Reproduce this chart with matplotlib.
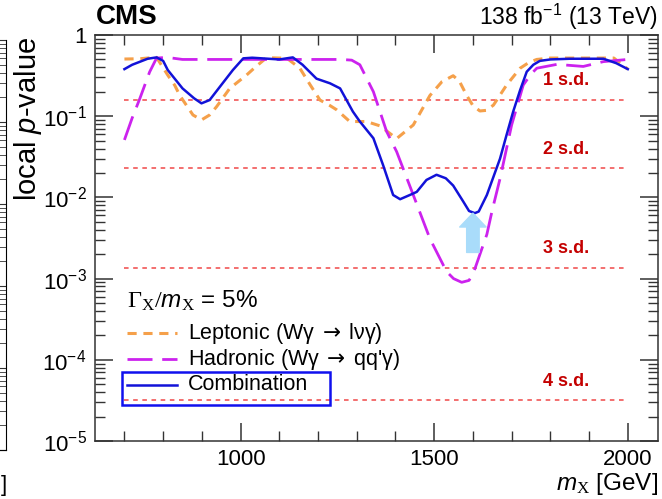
import numpy as np
import matplotlib
matplotlib.use("Agg")
import matplotlib.pyplot as plt
from matplotlib.lines import Line2D
from matplotlib.patches import Rectangle

plt.rcParams['font.family'] = ['Liberation Sans', 'DejaVu Sans']
plt.rcParams['mathtext.fontset'] = 'custom'
plt.rcParams['mathtext.rm'] = 'Liberation Serif'
plt.rcParams['mathtext.it'] = 'Liberation Sans:italic'
plt.rcParams['mathtext.bf'] = 'Liberation Sans:bold'
plt.rcParams['mathtext.sf'] = 'DejaVu Sans'

# ---- data ----
comb_m = [700, 720, 760, 783, 800, 812, 850, 880, 899, 920, 950, 980, 1007, 1030, 1100, 1135,
          1160, 1196, 1231, 1257, 1290, 1308, 1343, 1368, 1394, 1412, 1437, 1455, 1480, 1506,
          1530, 1549, 1575, 1590, 1605, 1615, 1636, 1670, 1687, 1704, 1722, 1739, 1756, 1773,
          1800, 1850, 1900, 1937, 1970, 2000]
comb_p = [0.38, 0.43, 0.51, 0.53, 0.48, 0.37, 0.22, 0.166, 0.144, 0.158, 0.242, 0.37, 0.516,
          0.525, 0.5, 0.53, 0.43, 0.29, 0.254, 0.22, 0.114, 0.086, 0.0535, 0.025, 0.0107,
          0.0095, 0.0107, 0.0117, 0.0164, 0.019, 0.0172, 0.014, 0.0089, 0.0068, 0.0064,
          0.0067, 0.0107, 0.030, 0.059, 0.114, 0.21, 0.353, 0.43, 0.48, 0.5, 0.51, 0.51,
          0.51, 0.45, 0.38]

lep_m = [700, 740, 760, 783, 812, 830, 843, 877, 899, 920, 938, 972, 1015, 1040, 1067, 1100,
         1119, 1153, 1180, 1205, 1231, 1248, 1282, 1325, 1360, 1403, 1446, 1489, 1520, 1549,
         1565, 1584, 1600, 1618, 1635, 1653, 1687, 1722, 1745, 1765, 1800, 1900, 1964, 2000]
lep_p = [0.506, 0.51, 0.52, 0.53, 0.32, 0.24, 0.18, 0.1035, 0.09, 0.1035, 0.131, 0.22, 0.32,
         0.41, 0.525, 0.52, 0.52, 0.39, 0.242, 0.158, 0.135, 0.12, 0.086, 0.086, 0.076,
         0.053, 0.078, 0.18, 0.266, 0.315, 0.27, 0.18, 0.135, 0.116, 0.118, 0.137, 0.242,
         0.39, 0.46, 0.5, 0.52, 0.52, 0.52, 0.38]

had_m = [700, 720, 740, 765, 783, 810, 850, 900, 1000, 1100, 1200, 1260, 1287, 1308, 1343,
         1360, 1377, 1403, 1446, 1489, 1532, 1550, 1571, 1590, 1601, 1636, 1650, 1670, 1700,
         1730, 1750, 1765, 1817, 1885, 1937, 2000]
had_p = [0.051, 0.095, 0.166, 0.35, 0.52, 0.53, 0.5, 0.5, 0.5, 0.5, 0.5, 0.5, 0.49, 0.43, 0.2,
         0.114, 0.065, 0.0366, 0.0107, 0.0031, 0.00122, 0.001, 0.0009, 0.00095, 0.00116,
         0.0035, 0.007, 0.017, 0.078, 0.242, 0.33, 0.39, 0.435, 0.41, 0.47, 0.5]

sd_labels = ["1 s.d.", "2 s.d.", "3 s.d.", "4 s.d."]
sd_p = [0.1587, 0.02275, 0.00135, 3.167e-5]
sd_range = [700, 2000]
sd_label_m = 1840

arrow_m = 1600
arrow_p = [2.1e-3, 6.4e-3]

legend_title = r"$\Gamma_{\mathrm{X}}/m_{\mathrm{X}}$ = 5%"
leg_labels = [r"Leptonic (W$\mathdefault{\gamma}\;\mathsf{\rightarrow}\;$l$\mathdefault{\nu\gamma}$)",
              r"Hadronic (W$\mathdefault{\gamma}\;\mathsf{\rightarrow}\;$qq'$\mathdefault{\gamma}$)",
              "Combination"]

ytick_vals = [1e-5, 1e-4, 1e-3, 1e-2, 1e-1, 1]
ytick_labels = [r"$\mathdefault{10^{-5}}$", r"$\mathdefault{10^{-4}}$", r"$\mathdefault{10^{-3}}$",
                r"$\mathdefault{10^{-2}}$", r"$\mathdefault{10^{-1}}$", "1"]
xtick_vals = [1000, 1500, 2000]

# ---- colours ----
c_comb = '#1212d8'
c_lep = '#f5a04a'
c_had = '#cc22ee'
c_sd = '#f04848'
c_sdtxt = '#c40000'

W, H = 662, 499
fig = plt.figure(figsize=(W / 100, H / 100), dpi=100)

def fx(x):
    return x / W

def fy(y):
    return 1 - y / H

# fake neighbouring panel on the left (cropped)
axl = fig.add_axes([fx(-300), fy(450), fx(306), (450 - 40) / H])
axl.set_yscale('log')
axl.set_ylim(1e-5, 1)
axl.set_xticks([])
for s in ['left', 'top']:
    axl.spines[s].set_visible(False)
axl.yaxis.tick_right()
axl.tick_params(axis='y', which='major', direction='in', length=14, labelright=False, color='#333333')
axl.tick_params(axis='y', which='minor', direction='in', length=7, color='#333333')
axl.yaxis.set_minor_locator(matplotlib.ticker.LogLocator(base=10, subs=np.arange(2, 10)))
fig.text(fx(7), fy(485), "]", ha='right', va='center', fontsize=16)

ax = fig.add_axes([fx(95), fy(441), fx(658 - 95), (441 - 35) / H])
ax.set_yscale('log')
ax.set_ylim(1e-5, 1)
ax.set_xlim(624, 2078)

for pv, lab in zip(sd_p, sd_labels):
    ax.hlines(pv, sd_range[0], sd_range[1], colors=c_sd, linestyles=(0, (3, 3)), linewidth=1.1)
    ax.text(sd_label_m, pv * 1.35, lab, color=c_sdtxt, fontsize=13, fontweight='bold',
            ha='center', va='bottom')

ax.plot(lep_m, lep_p, color=c_lep, lw=2.2, ls=(0, (3, 2.2)))
ax.plot(had_m, had_p, color=c_had, lw=2.0, ls=(0, (9, 3.5)))
ax.plot(comb_m, comb_p, color=c_comb, lw=1.8)

ax.annotate('', xy=(arrow_m, arrow_p[1]), xytext=(arrow_m, arrow_p[0]),
            arrowprops=dict(arrowstyle='simple,head_length=0.5,head_width=0.95,tail_width=0.45',
                            color='#a9dcfa', mutation_scale=20, shrinkA=0, shrinkB=0))

ax.set_xticks(xtick_vals)
ax.set_xticklabels([str(v) for v in xtick_vals])
ax.xaxis.set_minor_locator(matplotlib.ticker.MultipleLocator(100))
ax.set_yticks(ytick_vals)
ax.set_yticklabels(ytick_labels)
ax.yaxis.set_minor_locator(matplotlib.ticker.LogLocator(base=10, subs=np.arange(2, 10)))
ax.yaxis.set_minor_formatter(matplotlib.ticker.NullFormatter())
ax.tick_params(which='both', direction='in', top=True, right=True, labelsize=16, color='#333333')
ax.tick_params(which='major', length=13, width=1.1, pad=6)
ax.tick_params(which='minor', length=7, width=1.0)
for s in ax.spines.values():
    s.set_color('#333333')
    s.set_linewidth(1.1)

# texts
fig.text(fx(96), fy(17), "CMS", fontsize=20, fontweight='bold', ha='left', va='center')
fig.text(fx(658), fy(17), r"138 fb$^{\mathdefault{-1}}$ (13 TeV)", fontsize=16.5, ha='right', va='center')
fig.text(fx(28), fy(119), r"local $p$-value", fontsize=21, rotation=90, ha='center', va='center')
fig.text(fx(658), fy(484), r"$m_{\mathrm{X}}$ [GeV]", fontsize=17.5, ha='right', va='center')

# legend (manual)
fig.text(fx(127), fy(301), legend_title, fontsize=17.5, ha='left', va='center')
leg_y = [333, 359, 385]
styles = [dict(color=c_lep, lw=2.2, ls=(0, (3, 2.2))),
          dict(color=c_had, lw=2.0, ls=(0, (9, 3.5))),
          dict(color=c_comb, lw=1.8)]
for yy, lab, st in zip(leg_y, leg_labels, styles):
    fig.add_artist(Line2D([fx(127), fx(177)], [fy(yy), fy(yy)], **st))
    fig.text(fx(188), fy(yy), lab, fontsize=15.5, ha='left', va='center')
fig.add_artist(Rectangle((fx(122), fy(405)), fx(330 - 122), (405 - 372) / H,
                         fill=False, edgecolor='#1010ee', lw=1.8))

fig.savefig('out.png', dpi=100)
